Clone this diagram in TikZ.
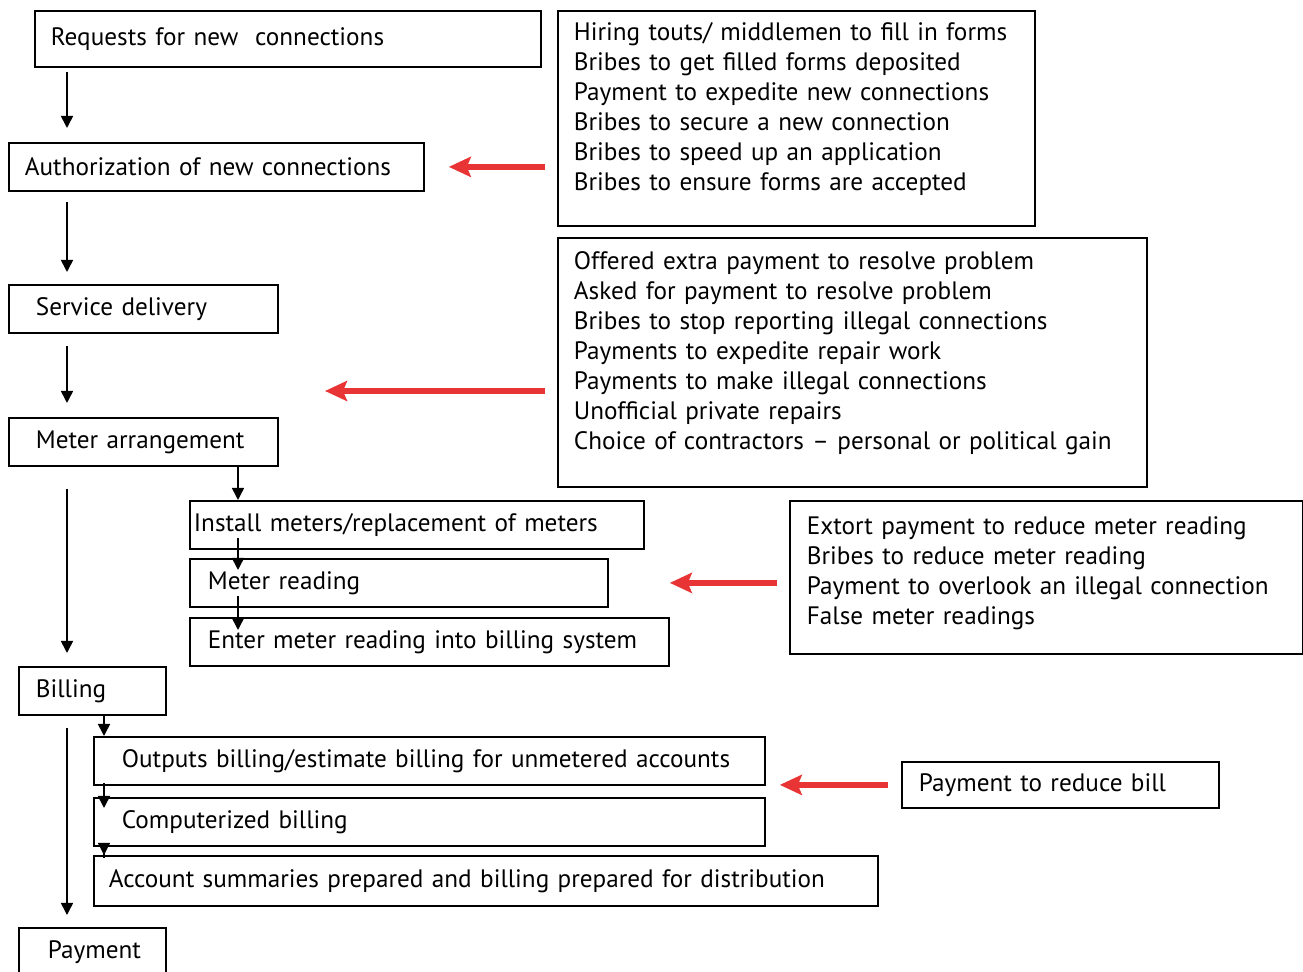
\documentclass[tikz,border=0pt]{standalone}
\usepackage{fontspec}
\setmainfont{PT Sans}
\usetikzlibrary{arrows.meta}
\definecolor{bribered}{RGB}{232,52,52}
\newcommand{\tailroom}[1]{\rule[-#1]{0pt}{#1}}

\begin{document}
\begin{tikzpicture}[x=0.5pt,y=-0.5pt,
    stage/.style={draw,line width=0.9pt,anchor=north west,align=left,minimum height=24pt,font=\fontsize{12.6}{15}\selectfont},
    flow/.style={draw,line width=0.8pt,-{Triangle[length=6pt,width=6pt]}},
    bribe/.style={draw=bribered,line width=3pt,-{Stealth[length=11pt,width=10pt,inset=2pt]}}]
  \useasboundingbox (0,0) rectangle (1303,972);
  \coordinate (spine) at (67,0);
  \coordinate (subspine) at (238,0);
  \coordinate (billspine) at (104,0);
  \coordinate (gapSM) at (325,391);
  \node[stage,minimum height=28pt,inner xsep=8pt,text width=237pt] (req) at (34,10) {Requests for new~ connections};
  \node[stage,inner xsep=8pt,text width=191.5pt] (auth) at (8,142) {Authorization of new connections};
  \node[stage,inner xsep=13.5pt,text width=107.5pt] (serv) at (8,284) {Service delivery};
  \node[stage,inner xsep=13.5pt,text width=107.5pt] (meter) at (8,417) {Meter arrangement};
  \node[stage,inner xsep=2pt,text width=223pt] (install) at (189,500) {Install meters/replacement of meters};
  \node[stage,inner xsep=9pt,text width=191pt] (reading) at (189,558) {Meter reading};
  \node[stage,inner xsep=9pt,text width=221.5pt] (enter) at (189,617) {Enter meter reading into billing system};
  \node[stage,inner xsep=8.5pt,text width=56.5pt] (billing) at (18,666) {Billing};
  \node[stage,inner xsep=14pt,text width=307.5pt] (outputs) at (93,736) {Outputs billing/estimate billing for unmetered accounts};
  \node[stage,inner xsep=14pt,text width=307.5pt] (comp) at (93,797) {Computerized billing};
  \node[stage,minimum height=25pt,inner xsep=7.5pt,text width=377pt] (acct) at (93,855) {Account summaries prepared and billing prepared for distribution};
  \node[stage,inner xsep=14.5pt,text width=44.5pt] (payment) at (18,927) {Payment};
  \node[stage,minimum height=107.5pt,inner xsep=8pt,text width=222.5pt] (riskA) at (557,10) {Hiring touts/ middlemen to fill in forms\\Bribes to get filled forms deposited\\Payment to expedite new connections\\Bribes to secure a new connection\\Bribes to speed up an application\\Bribes to ensure forms are accepted\tailroom{12pt}};
  \node[stage,minimum height=124.5pt,inner xsep=8pt,text width=278.5pt] (riskB) at (557,237) {Offered extra payment to resolve problem\\Asked for payment to resolve problem\\Bribes to stop reporting illegal connections\\Payments to expedite repair work\\Payments to make illegal connections\\Unofficial private repairs\\Choice of contractors -- personal or political gain\tailroom{12pt}};
  \node[stage,minimum height=76.5pt,inner xsep=8.5pt,text width=239.5pt] (riskC) at (789,500) {Extort payment to reduce meter reading\\Bribes to reduce meter reading\\Payment to overlook an illegal connection\\False meter readings\tailroom{6.5pt}};
  \node[stage,minimum height=23pt,inner xsep=8.5pt,text width=141.5pt] (riskD) at (901,761) {Payment to reduce bill};
  \draw[flow,shorten <=2pt,shorten >=7pt] (req.south -| spine) -- (auth.north -| spine);
  \draw[flow,shorten <=5pt,shorten >=6pt] (auth.south -| spine) -- (serv.north -| spine);
  \draw[flow,shorten <=6pt,shorten >=7pt] (serv.south -| spine) -- (meter.north -| spine);
  \draw[flow,shorten <=11pt,shorten >=6.5pt] (meter.south -| spine) -- (billing.north -| spine);
  \draw[flow,shorten <=6pt,shorten >=6pt] (billing.south -| spine) -- (payment.north -| spine);
  \draw[flow] (meter.south -| subspine) -- (install.north -| subspine);
  \draw[flow,shorten <=-6pt,shorten >=-6pt] (install.south -| subspine) -- (reading.north -| subspine);
  \draw[flow,shorten <=-6pt,shorten >=-6.5pt] (reading.south -| subspine) -- (enter.north -| subspine);
  \draw[flow] (billing.south -| billspine) -- (outputs.north -| billspine);
  \draw[flow,shorten <=-1.5pt,shorten >=-5.5pt] (outputs.south -| billspine) -- (comp.north -| billspine);
  \draw[flow,shorten <=-5.5pt] (comp.south -| billspine) -- (acct.north -| billspine);
  \draw[bribe,shorten <=6pt,shorten >=12pt] (riskA.west |- auth.east) -- (auth.east);
  \draw[bribe,shorten <=6pt] (riskB.west |- gapSM) -- (gapSM);
  \draw[bribe,shorten <=6pt] (riskC.west |- reading.east) -- (reading.east -| enter.east);
  \draw[bribe,shorten <=6.5pt,shorten >=7pt] (riskD.west) -- (riskD.west -| outputs.east);
\end{tikzpicture}
\end{document}
